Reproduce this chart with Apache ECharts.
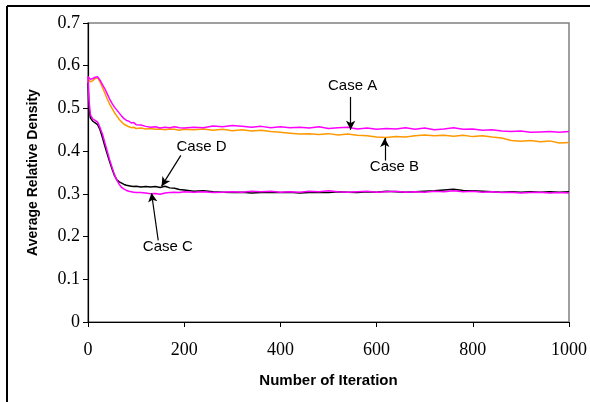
<!DOCTYPE html>
<html>
<head>
<meta charset="utf-8">
<script src="https://cdn.jsdelivr.net/npm/echarts@6/dist/echarts.min.js"></script>
<style>
html, body { margin: 0; padding: 0; background: #fff; }
#chart { width: 590px; height: 402px; }
</style>
</head>
<body>
<div id="chart"></div>
<script>
// iteration numbers (x values), dense at the start where the curves drop
var iters = [0, 2, 5, 10, 15, 20, 25, 30, 35, 40, 45, 50, 55, 60, 65, 70, 75, 80, 85, 90, 95, 100,
    110, 120, 130, 140, 150, 160, 170, 180, 190, 200,
    220, 240, 260, 280, 300, 320, 340, 360, 380, 400, 420, 440, 460, 480, 500, 520, 540, 560, 580, 600,
    620, 640, 660, 680, 700, 720, 740, 760, 780, 800, 820, 840, 860, 880, 900, 920, 940, 960, 980, 1000];

var caseA = [0.575, 0.572, 0.568, 0.570, 0.573, 0.574, 0.566, 0.556, 0.546, 0.534, 0.522, 0.512, 0.503, 0.496, 0.489, 0.482, 0.476, 0.472, 0.470, 0.466, 0.467, 0.462,
    0.461, 0.458, 0.456, 0.457, 0.454, 0.456, 0.455, 0.457, 0.455, 0.454,
    0.456, 0.455, 0.459, 0.457, 0.460, 0.458, 0.456, 0.458, 0.455, 0.457, 0.455, 0.456, 0.454, 0.457, 0.453, 0.455, 0.456, 0.452, 0.454, 0.451,
    0.453, 0.452, 0.455, 0.451, 0.454, 0.450, 0.452, 0.455, 0.451, 0.452, 0.449, 0.450, 0.447, 0.446, 0.447, 0.444, 0.445, 0.446, 0.444, 0.446];

var caseB = [0.570, 0.566, 0.562, 0.565, 0.570, 0.572, 0.562, 0.549, 0.536, 0.522, 0.510, 0.500, 0.490, 0.482, 0.474, 0.468, 0.463, 0.460, 0.457, 0.455, 0.456, 0.453,
    0.454, 0.452, 0.453, 0.451, 0.452, 0.450, 0.452, 0.451, 0.449, 0.451,
    0.450, 0.452, 0.449, 0.451, 0.448, 0.450, 0.447, 0.449, 0.446, 0.444, 0.442, 0.440, 0.441, 0.439, 0.441, 0.438, 0.440, 0.437, 0.436, 0.433,
    0.432, 0.434, 0.433, 0.436, 0.438, 0.436, 0.437, 0.435, 0.437, 0.434, 0.436, 0.433, 0.431, 0.425, 0.423, 0.425, 0.422, 0.424, 0.419, 0.420];

var caseC = [0.575, 0.520, 0.485, 0.475, 0.472, 0.468, 0.455, 0.440, 0.420, 0.400, 0.380, 0.362, 0.345, 0.332, 0.322, 0.315, 0.311, 0.308, 0.306, 0.305, 0.304, 0.303,
    0.303, 0.302, 0.300, 0.301, 0.299, 0.302, 0.303, 0.304, 0.303, 0.305,
    0.304, 0.305, 0.303, 0.304, 0.305, 0.304, 0.306, 0.305, 0.306, 0.304, 0.305, 0.304, 0.306, 0.305, 0.307, 0.305, 0.304, 0.305, 0.306, 0.304,
    0.305, 0.306, 0.304, 0.305, 0.304, 0.306, 0.305, 0.307, 0.305, 0.306, 0.304, 0.305, 0.303, 0.304, 0.302, 0.303, 0.304, 0.302, 0.303, 0.302];

var caseD = [0.560, 0.500, 0.478, 0.470, 0.466, 0.462, 0.450, 0.432, 0.412, 0.393, 0.375, 0.358, 0.343, 0.333, 0.328, 0.325, 0.322, 0.320, 0.319, 0.318, 0.317, 0.318,
    0.316, 0.317, 0.316, 0.317, 0.315, 0.318, 0.314, 0.313, 0.310, 0.309,
    0.306, 0.307, 0.305, 0.304, 0.303, 0.304, 0.302, 0.303, 0.304, 0.303, 0.304, 0.302, 0.303, 0.304, 0.303, 0.305, 0.304, 0.303, 0.305, 0.304,
    0.306, 0.305, 0.304, 0.305, 0.306, 0.307, 0.309, 0.311, 0.308, 0.307, 0.306, 0.305, 0.304, 0.305, 0.304, 0.305, 0.304, 0.305, 0.304, 0.305];

// annotation: label text position and arrow [from, to] in data coords
var notes = [
    {text: 'Case A', at: [550, 0.553], from: [546, 0.527], to: [546, 0.450]},
    {text: 'Case B', at: [637, 0.364], from: [617, 0.378], to: [617, 0.431]},
    {text: 'Case C', at: [166, 0.177], from: [146, 0.191], to: [132, 0.302]},
    {text: 'Case D', at: [236, 0.409], from: [193, 0.390], to: [153, 0.318]}
];

function pairs(ys){
    var out = [];
    for (var i = 0; i < iters.length; i++) {
        out.push([iters[i], ys[i]]);
    }
    return out;
}

function make_series(name, ys, color){
    return {
        name: name,
        type: 'line',
        data: pairs(ys),
        showSymbol: false,
        symbol: 'none',
        lineStyle: {color: color, width: 1.5},
        itemStyle: {color: color},
        animation: false
    };
}

var annoSeries = {
    type: 'line',
    data: [],
    silent: true,
    markLine: {
        silent: true,
        symbol: ['none', 'arrow'],
        symbolSize: [7, 9],
        lineStyle: {color: '#000', width: 1.2, type: 'solid'},
        label: {show: false},
        data: notes.map(function(n){
            return [{coord: n.from}, {coord: n.to}];
        })
    },
    markPoint: {
        silent: true,
        symbol: 'circle',
        symbolSize: 0,
        label: {
            show: true,
            position: 'inside',
            color: '#000',
            fontFamily: 'Liberation Sans',
            fontSize: 15,
            formatter: function(p){ return p.name; }
        },
        data: notes.map(function(n){
            return {name: n.text, coord: n.at};
        })
    }
};

var myChart = echarts.init(document.getElementById('chart'));
var option = {
    animation: false,
    backgroundColor: '#fff',
    grid: {
        left: 88, right: 21, top: 23, bottom: 80,
        show: true,
        borderColor: '#808080',
        borderWidth: 1.5
    },
    xAxis: {
        type: 'value',
        min: 0, max: 1000, interval: 200,
        name: 'Number of Iteration',
        nameLocation: 'middle',
        nameGap: 51,
        nameTextStyle: {fontFamily: 'Liberation Sans', fontWeight: 'bold', fontSize: 15, color: '#000'},
        axisLine: {lineStyle: {color: '#000', width: 1.2}},
        axisTick: {show: true, length: 5, lineStyle: {color: '#000'}},
        axisLabel: {
            fontFamily: 'Liberation Serif', fontSize: 18, color: '#000', margin: 19,
            formatter: function(v){ return String(v); }
        },
        splitLine: {show: false}
    },
    yAxis: {
        type: 'value',
        min: 0, max: 0.7, interval: 0.1,
        name: 'Average Relative Density',
        nameLocation: 'middle',
        nameGap: 48,
        nameTextStyle: {fontFamily: 'Liberation Sans', fontWeight: 'bold', fontSize: 14, color: '#000'},
        axisLine: {show: true, lineStyle: {color: '#000', width: 1.2}},
        axisTick: {show: true, length: 5, lineStyle: {color: '#000'}},
        axisLabel: {fontFamily: 'Liberation Serif', fontSize: 18, color: '#000', margin: 8},
        splitLine: {show: false}
    },
    graphic: [
        {type: 'line', shape: {x1: 7, y1: 6, x2: 590, y2: 6}, style: {stroke: '#000', lineWidth: 2}},
        {type: 'line', shape: {x1: 7, y1: 6, x2: 7, y2: 402}, style: {stroke: '#000', lineWidth: 2}}
    ],
    series: [
        make_series('Case B', caseB, '#FF9900'),
        make_series('Case A', caseA, '#FF00FF'),
        make_series('Case D', caseD, '#000000'),
        make_series('Case C', caseC, '#FF00FF'),
        annoSeries
    ]
};
myChart.setOption(option);
</script>
</body>
</html>
